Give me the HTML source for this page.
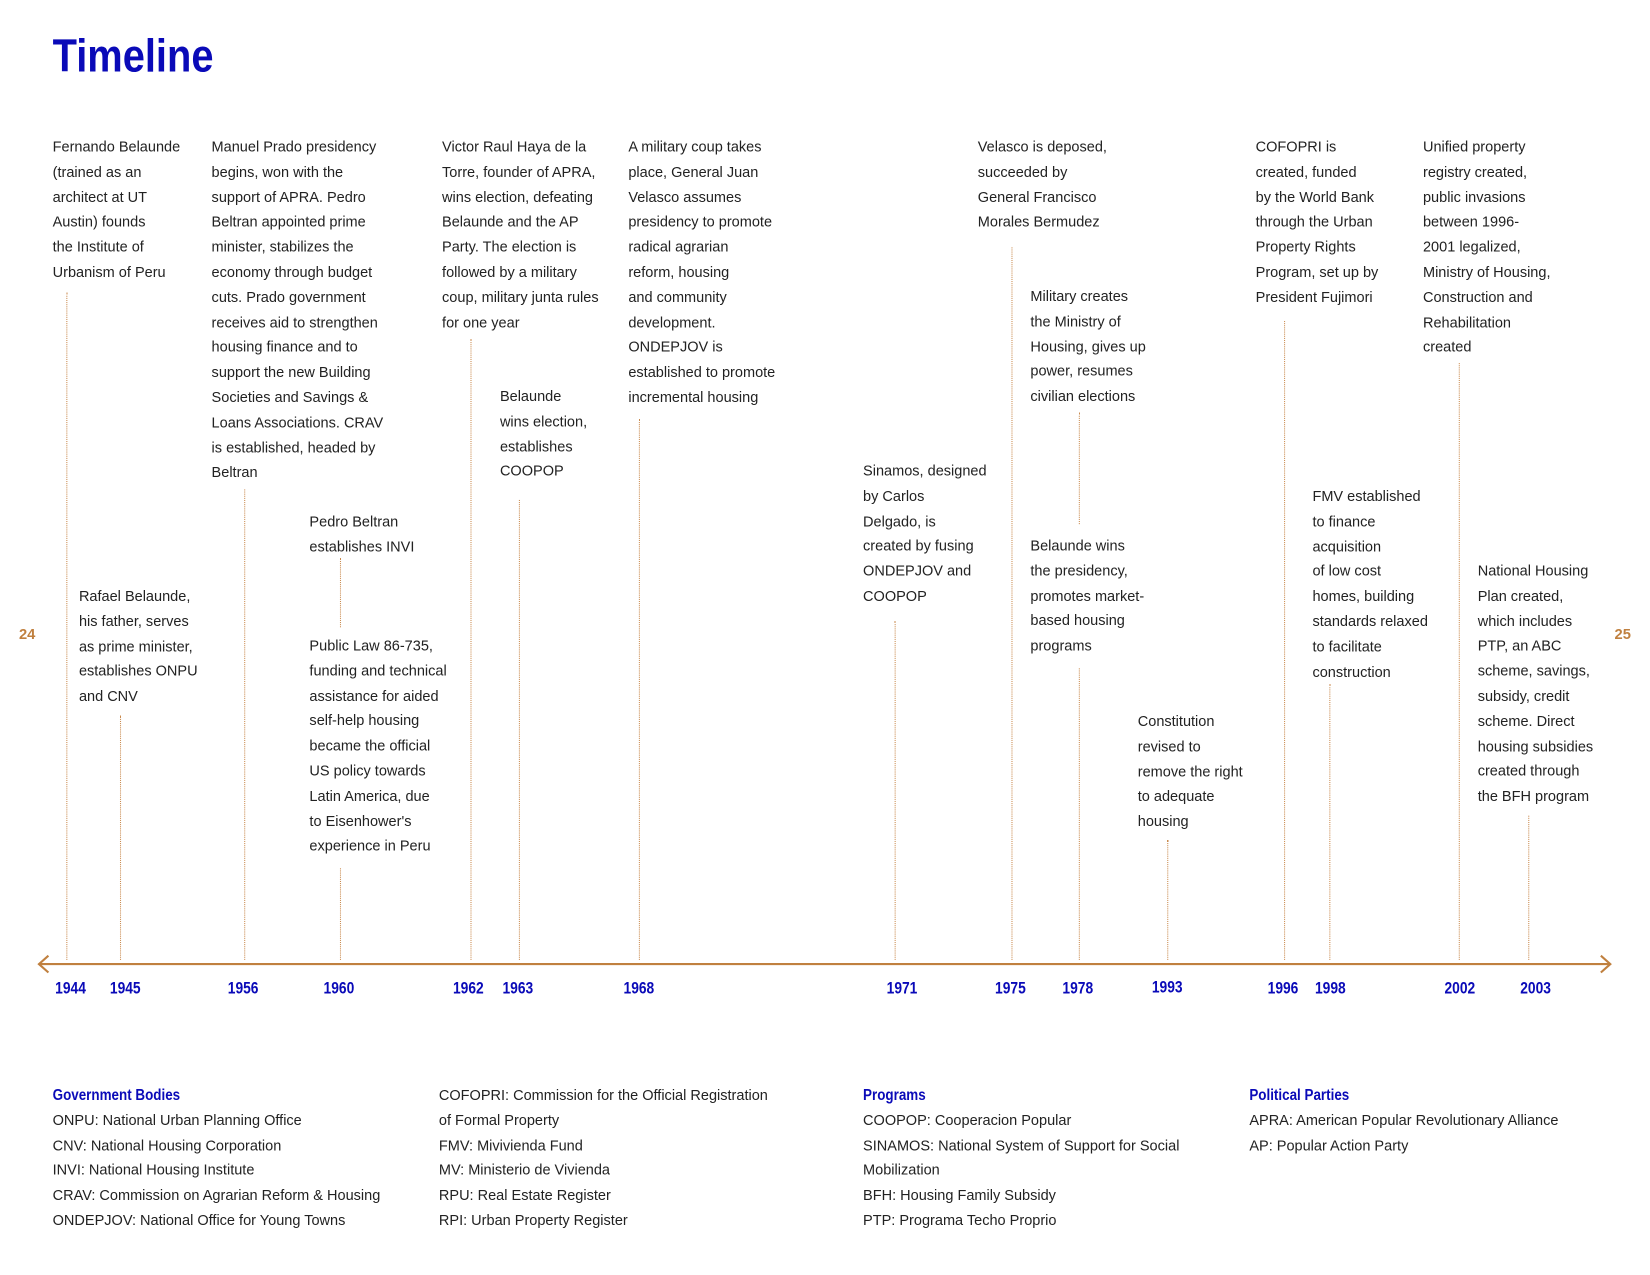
<!DOCTYPE html>
<html><head><meta charset="utf-8"><style>
html,body{margin:0;padding:0;background:#fff;}
body{width:1650px;height:1275px;overflow:hidden;position:relative;}
#w{position:absolute;left:0;top:0;width:1568px;height:1211px;transform:scale(1.0525);transform-origin:0 0;font-family:"Liberation Sans",sans-serif;color:#222;}
.t{position:absolute;font-size:13.8px;line-height:23.8px;white-space:nowrap;}
.v{position:absolute;width:0;border-left:1.3px dotted #c98a4e;}
.y{position:absolute;top:931px;font-size:16px;font-weight:bold;color:#0a0ab8;transform:translateX(-50%) scaleX(0.82);}
.h{font-weight:bold;color:#0a0ab8;font-size:15px;display:inline-block;transform:scaleX(0.85);transform-origin:0 50%;}
.pg{position:absolute;top:594px;font-size:14px;font-weight:bold;color:#c0803f;}
</style></head><body><div id="w">
<div style="position:absolute;left:50px;top:29px;font-size:44px;font-weight:bold;color:#0a0ab8;transform:scaleX(0.86);transform-origin:0 0;">Timeline</div>

<div class="t" style="left:50px;top:128px">Fernando Belaunde<br>(trained as an<br>architect at UT<br>Austin) founds<br>the Institute of<br>Urbanism of Peru</div>
<div class="t" style="left:75px;top:555px">Rafael Belaunde,<br>his father, serves<br>as prime minister,<br>establishes ONPU<br>and CNV</div>
<div class="t" style="left:201px;top:128px">Manuel Prado presidency<br>begins, won with the<br>support of APRA. Pedro<br>Beltran appointed prime<br>minister, stabilizes the<br>economy through budget<br>cuts. Prado government<br>receives aid to strengthen<br>housing finance and to<br>support the new Building<br>Societies and Savings &amp;<br>Loans Associations. CRAV<br>is established, headed by<br>Beltran</div>
<div class="t" style="left:294px;top:484px">Pedro Beltran<br>establishes INVI</div>
<div class="t" style="left:294px;top:602px">Public Law 86-735,<br>funding and technical<br>assistance for aided<br>self-help housing<br>became the official<br>US policy towards<br>Latin America, due<br>to Eisenhower's<br>experience in Peru</div>
<div class="t" style="left:420px;top:128px">Victor Raul Haya de la<br>Torre, founder of APRA,<br>wins election, defeating<br>Belaunde and the AP<br>Party. The election is<br>followed by a military<br>coup, military junta rules<br>for one year</div>
<div class="t" style="left:475px;top:365px">Belaunde<br>wins election,<br>establishes<br>COOPOP</div>
<div class="t" style="left:597px;top:128px">A military coup takes<br>place, General Juan<br>Velasco assumes<br>presidency to promote<br>radical agrarian<br>reform, housing<br>and community<br>development.<br>ONDEPJOV is<br>established to promote<br>incremental housing</div>
<div class="t" style="left:820px;top:436px">Sinamos, designed<br>by Carlos<br>Delgado, is<br>created by fusing<br>ONDEPJOV and<br>COOPOP</div>
<div class="t" style="left:929px;top:128px">Velasco is deposed,<br>succeeded by<br>General Francisco<br>Morales Bermudez</div>
<div class="t" style="left:979px;top:270px">Military creates<br>the Ministry of<br>Housing, gives up<br>power, resumes<br>civilian elections</div>
<div class="t" style="left:979px;top:507px">Belaunde wins<br>the presidency,<br>promotes market-<br>based housing<br>programs</div>
<div class="t" style="left:1081px;top:674px">Constitution<br>revised to<br>remove the right<br>to adequate<br>housing</div>
<div class="t" style="left:1193px;top:128px">COFOPRI is<br>created, funded<br>by the World Bank<br>through the Urban<br>Property Rights<br>Program, set up by<br>President Fujimori</div>
<div class="t" style="left:1247px;top:460px">FMV established<br>to finance<br>acquisition<br>of low cost<br>homes, building<br>standards relaxed<br>to facilitate<br>construction</div>
<div class="t" style="left:1352px;top:128px">Unified property<br>registry created,<br>public invasions<br>between 1996-<br>2001 legalized,<br>Ministry of Housing,<br>Construction and<br>Rehabilitation<br>created</div>
<div class="t" style="left:1404px;top:531px">National Housing<br>Plan created,<br>which includes<br>PTP, an ABC<br>scheme, savings,<br>subsidy, credit<br>scheme. Direct<br>housing subsidies<br>created through<br>the BFH program</div>

<div class="v" style="left:63px;top:278px;height:634px"></div>
<div class="v" style="left:114px;top:680px;height:232px"></div>
<div class="v" style="left:232px;top:465px;height:447px"></div>
<div class="v" style="left:323px;top:530px;height:66px"></div>
<div class="v" style="left:323px;top:825px;height:87px"></div>
<div class="v" style="left:447px;top:322px;height:590px"></div>
<div class="v" style="left:493px;top:475px;height:437px"></div>
<div class="v" style="left:607px;top:398px;height:514px"></div>
<div class="v" style="left:850px;top:590px;height:322px"></div>
<div class="v" style="left:961px;top:235px;height:677px"></div>
<div class="v" style="left:1025px;top:392px;height:106px"></div>
<div class="v" style="left:1025px;top:635px;height:277px"></div>
<div class="v" style="left:1109px;top:798px;height:114px"></div>
<div class="v" style="left:1220px;top:305px;height:607px"></div>
<div class="v" style="left:1263px;top:650px;height:262px"></div>
<div class="v" style="left:1386px;top:345px;height:567px"></div>
<div class="v" style="left:1452px;top:775px;height:137px"></div>

<svg style="position:absolute;left:0;top:0" width="1568" height="1211">
<line x1="37" y1="916" x2="1530" y2="916" stroke="#c0803f" stroke-width="2"/>
<polyline points="46,908 37,916 46,924" fill="none" stroke="#c0803f" stroke-width="2"/>
<polyline points="1521,908 1530,916 1521,924" fill="none" stroke="#c0803f" stroke-width="2"/>
</svg>

<div class="y" style="left:67px">1944</div>
<div class="y" style="left:119px">1945</div>
<div class="y" style="left:231px">1956</div>
<div class="y" style="left:322px">1960</div>
<div class="y" style="left:445px">1962</div>
<div class="y" style="left:492px">1963</div>
<div class="y" style="left:607px">1968</div>
<div class="y" style="left:857px">1971</div>
<div class="y" style="left:960px">1975</div>
<div class="y" style="left:1024px">1978</div>
<div class="y" style="left:1109px;top:930px">1993</div>
<div class="y" style="left:1219px">1996</div>
<div class="y" style="left:1264px">1998</div>
<div class="y" style="left:1387px">2002</div>
<div class="y" style="left:1459px">2003</div>

<div class="pg" style="left:18px">24</div>
<div class="pg" style="left:1534px">25</div>

<div class="t" style="left:50px;top:1029px"><span class="h">Government Bodies</span><br>ONPU: National Urban Planning Office<br>CNV: National Housing Corporation<br>INVI: National Housing Institute<br>CRAV: Commission on Agrarian Reform &amp; Housing<br>ONDEPJOV: National Office for Young Towns</div>
<div class="t" style="left:417px;top:1029px">COFOPRI: Commission for the Official Registration<br>of Formal Property<br>FMV: Mivivienda Fund<br>MV: Ministerio de Vivienda<br>RPU: Real Estate Register<br>RPI: Urban Property Register</div>
<div class="t" style="left:820px;top:1029px"><span class="h">Programs</span><br>COOPOP: Cooperacion Popular<br>SINAMOS: National System of Support for Social<br>Mobilization<br>BFH: Housing Family Subsidy<br>PTP: Programa Techo Proprio</div>
<div class="t" style="left:1187px;top:1029px"><span class="h">Political Parties</span><br>APRA: American Popular Revolutionary Alliance<br>AP: Popular Action Party</div>
</div></body></html>
